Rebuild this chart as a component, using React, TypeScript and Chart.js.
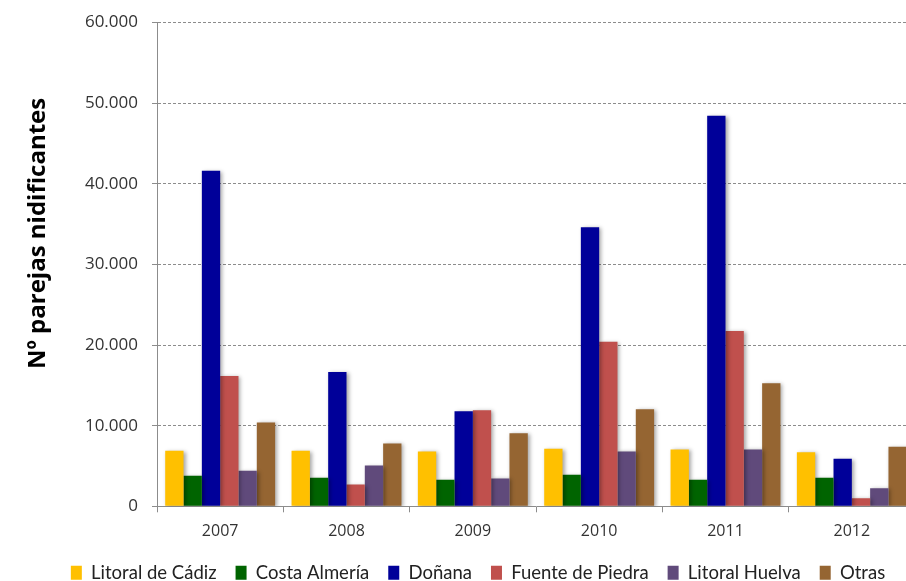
import React, { useEffect, useRef } from "react";
import { Chart, registerables } from "chart.js";

Chart.register(...registerables);

const years = ["2007", "2008", "2009", "2010", "2011", "2012"];
const litoralCadiz = [6900, 6900, 6800, 7150, 7050, 6700];
const costaAlmeria = [3800, 3550, 3300, 3900, 3300, 3550];
const donana = [41600, 16650, 11800, 34600, 48450, 5900];
const fuentePiedra = [16150, 2700, 11900, 20400, 21750, 1000];
const litoralHuelva = [4400, 5050, 3450, 6800, 7050, 2250];
const otras = [10400, 7800, 9050, 12050, 15250, 7400];

const seriesNames = [
  "Litoral de Cádiz",
  "Costa Almería",
  "Doñana",
  "Fuente de Piedra",
  "Litoral Huelva",
  "Otras",
];
const seriesColors = ["#FFC000", "#006400", "#000099", "#C0504D", "#604A7B", "#956532"];
const yTicks = [0, 10000, 20000, 30000, 40000, 50000, 60000];
const yTitle = "Nº parejas nidificantes";

const fmt = (v: number) => String(v).replace(/\B(?=(\d{3})+(?!\d))/g, ".");

// soft drop shadow behind the bars
const barShadow = {
  id: "barShadow",
  beforeDatasetsDraw(chart: any) {
    const ctx = chart.ctx;
    ctx.save();
    ctx.shadowColor = "rgba(0,0,0,0.35)";
    ctx.shadowBlur = 4;
    ctx.shadowOffsetX = 2;
    ctx.shadowOffsetY = 1;
  },
  afterDatasetsDraw(chart: any) {
    chart.ctx.restore();
  },
};

// rotated axis title, drawn beside the value axis
const sideTitle = {
  id: "sideTitle",
  afterDraw(chart: any) {
    const ctx = chart.ctx;
    const area = chart.chartArea;
    ctx.save();
    ctx.translate(38, (area.top + area.bottom) / 2 - 31);
    ctx.rotate(-Math.PI / 2);
    ctx.font = "bold 24px 'Open Sans'";
    ctx.fillStyle = "#000";
    ctx.textAlign = "center";
    ctx.textBaseline = "middle";
    ctx.fillText(yTitle, 0, 0);
    ctx.restore();
  },
};

export default function App() {
  const ref = useRef<HTMLCanvasElement | null>(null);

  useEffect(() => {
    if (!ref.current) return;
    const values = [litoralCadiz, costaAlmeria, donana, fuentePiedra, litoralHuelva, otras];
    const chart = new Chart(ref.current, {
      type: "bar",
      data: {
        labels: years,
        datasets: seriesNames.map((name, i) => ({
          label: name,
          data: values[i],
          backgroundColor: seriesColors[i],
          borderWidth: 0,
          categoryPercentage: 0.87,
          barPercentage: 1,
        })),
      },
      options: {
        animation: false,
        responsive: false,
        maintainAspectRatio: false,
        layout: { padding: { top: 8, right: 41, left: 41, bottom: 0 } },
        plugins: {
          tooltip: { enabled: false },
          legend: {
            position: "bottom",
            labels: {
              boxWidth: 11,
              boxHeight: 14,
              padding: 19,
              color: "#222",
              font: { family: "Lato", size: 18.5 },
            },
          },
        },
        scales: {
          x: {
            offset: true,
            grid: {
              offset: true,
              drawOnChartArea: false,
              drawTicks: true,
              tickLength: 6,
              color: "#8c8c8c",
            },
            border: { color: "#8c8c8c", width: 1 },
            ticks: {
              color: "#333",
              padding: 10,
              font: { family: "Open Sans", size: 16 },
            },
            afterFit: (s: any) => {
              s.height -= 7;
            },
          },
          y: {
            min: 0,
            max: 60000,
            afterBuildTicks: (s: any) => {
              s.ticks = yTicks.map((v) => ({ value: v }));
            },
            afterFit: (s: any) => {
              s.width = 116;
            },
            grid: {
              color: "#8c8c8c",
              tickLength: 5,
              tickColor: "#8c8c8c",
            },
            // dashed horizontal gridlines
            border: { color: "#8c8c8c", width: 1, dash: [3, 2] },
            ticks: {
              color: "#333",
              padding: 14,
              font: { family: "Open Sans", size: 17, lineHeight: 1 },
              callback: (v: any) => fmt(Number(v)),
            },
          },
        },
      },
      plugins: [barShadow, sideTitle],
    });
    return () => chart.destroy();
  }, []);

  return (
    <div
      style={{
        position: "fixed",
        left: 0,
        top: 0,
        width: 906,
        height: 581,
        overflow: "hidden",
        background: "#fff",
      }}
    >
      <canvas ref={ref} width={956} height={592} style={{ display: "block" }} />
    </div>
  );
}
